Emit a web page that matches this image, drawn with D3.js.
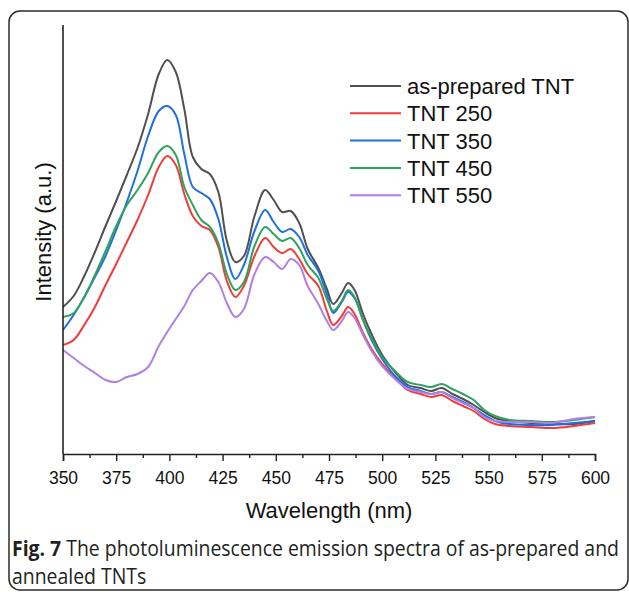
<!DOCTYPE html>
<html>
<head>
<meta charset="utf-8">
<script src="https://cdn.jsdelivr.net/npm/d3@7/dist/d3.min.js"></script>
<style>
  body { margin: 0; background: #fff; }
  svg { display: block; }
</style>
</head>
<body>
<div id="chart"></div>
<script>
// wavelength grid (nm) shared by all series
const wavelengths = [350, 355, 360, 365, 370, 375, 380, 385, 390, 395,
  399, 403, 407, 411, 415, 419, 423, 427, 431, 435,
  440, 445, 449, 453, 457, 461, 465, 470, 474, 477,
  481, 484, 487, 491, 495, 500, 506, 512, 518, 523,
  528, 533, 538, 543, 548, 553, 560, 570, 580, 590, 600];

// intensities (a.u.)
const asPrepared = [147, 158, 178, 202, 228, 253, 279, 306, 340, 380,
  394, 382, 345, 297, 285, 280, 262, 213, 192, 198,
  238, 264, 254, 242, 243, 231, 205, 186, 165, 150,
  161, 171, 164, 140, 120, 99, 82, 69, 66, 63,
  66, 60, 55, 49, 42, 36, 33, 31, 30, 30, 33];
const tnt250 = [109, 114, 129, 147, 169, 190, 212, 234, 259, 287,
  298, 289, 260, 238, 228, 224, 207, 173, 157, 168,
  198, 216, 207, 201, 205, 195, 180, 168, 143, 129,
  138, 147, 140, 121, 105, 90, 76, 64, 60, 57,
  59, 53, 48, 43, 35, 30, 28, 27, 26, 28, 31];
const tnt350 = [124, 139, 157, 177, 198, 224, 252, 283, 318, 343,
  348, 339, 300, 267, 261, 255, 235, 197, 175, 189,
  223, 244, 232, 222, 225, 217, 199, 183, 160, 141,
  152, 162, 156, 134, 114, 95, 78, 67, 63, 60,
  62, 57, 52, 46, 39, 33, 30, 29, 29, 31, 33];
const tnt450 = [137, 141, 157, 179, 203, 228, 249, 264, 281, 302,
  308, 299, 267, 249, 234, 227, 211, 180, 164, 172,
  208, 227, 220, 213, 216, 206, 189, 176, 155, 143,
  153, 164, 157, 134, 116, 97, 83, 72, 69, 67,
  70, 65, 60, 54, 44, 38, 34, 33, 32, 34, 37];
const tnt550 = [104, 96, 88, 81, 74, 72, 77, 80, 87, 108,
  122, 135, 148, 164, 173, 181, 172, 151, 137, 145,
  180, 197, 192, 185, 195, 189, 168, 150, 133, 124,
  133, 142, 136, 119, 103, 88, 75, 65, 62, 60,
  62, 56, 51, 46, 37, 33, 32, 32, 31, 35, 37];

const seriesNames = ["as-prepared TNT", "TNT 250", "TNT 350", "TNT 450", "TNT 550"];
const seriesValues = [asPrepared, tnt250, tnt350, tnt450, tnt550];
const seriesColors = ["#505050", "#f23c3c", "#1f6fe0", "#2ea25e", "#b27ee2"];

const xTicks = [350, 375, 400, 425, 450, 475, 500, 525, 550, 575, 600];
const xMinorTicks = [362.5, 387.5, 412.5, 437.5, 462.5, 487.5, 512.5, 537.5, 562.5, 587.5];

const width = 629, height = 592;
const plot = { left: 63, right: 595, top: 25, bottom: 454 };
const axisFont = "'Liberation Sans', Arial, sans-serif";

const svg = d3.select("#chart").append("svg")
  .attr("width", width)
  .attr("height", height);

// rounded frame of the figure
svg.append("rect")
  .attr("x", 9).attr("y", 11)
  .attr("width", 619).attr("height", 579)
  .attr("rx", 11).attr("ry", 11)
  .attr("fill", "none")
  .attr("stroke", "#2b2b2b")
  .attr("stroke-width", 1.5);

const x = d3.scaleLinear().domain([350, 600]).range([plot.left, plot.right]);
const y = d3.scaleLinear().domain([0, 429]).range([plot.bottom, plot.top]);

const line = d3.line()
  .x((d) => x(d[0]))
  .y((d) => y(d[1]))
  .curve(d3.curveCatmullRom.alpha(0.5));

seriesValues.forEach((vals, i) => {
  svg.append("path")
    .datum(wavelengths.map((w, j) => [w, vals[j]]))
    .attr("fill", "none")
    .attr("stroke", seriesColors[i])
    .attr("stroke-width", 2)
    .attr("stroke-linejoin", "round")
    .attr("d", line);
});

// axes
const xAxis = svg.append("g")
  .attr("transform", `translate(0,${plot.bottom})`)
  .call(d3.axisBottom(x).tickValues(xTicks).tickSize(7).tickPadding(11).tickFormat(d3.format("d")));
xAxis.select(".domain").attr("stroke", "#222").attr("stroke-width", 1.6);
xAxis.selectAll(".tick line").attr("stroke", "#222").attr("stroke-width", 1.4);
xAxis.selectAll("text")
  .attr("font-family", axisFont)
  .attr("font-size", 17.5)
  .attr("fill", "#111");

const xMinor = svg.append("g")
  .attr("transform", `translate(0,${plot.bottom})`)
  .call(d3.axisBottom(x).tickValues(xMinorTicks).tickSize(4).tickFormat(""));
xMinor.select(".domain").remove();
xMinor.selectAll(".tick line").attr("stroke", "#222").attr("stroke-width", 1.4);

svg.append("line")
  .attr("x1", plot.left).attr("x2", plot.left)
  .attr("y1", plot.top).attr("y2", plot.bottom)
  .attr("stroke", "#222")
  .attr("stroke-width", 1.6);

svg.append("text")
  .attr("x", 329)
  .attr("y", 518)
  .attr("text-anchor", "middle")
  .attr("font-family", axisFont)
  .attr("font-size", 22)
  .attr("fill", "#111")
  .text("Wavelength (nm)");

svg.append("text")
  .attr("transform", `translate(51,232) rotate(-90)`)
  .attr("text-anchor", "middle")
  .attr("font-family", axisFont)
  .attr("font-size", 22)
  .attr("fill", "#111")
  .text("Intensity (a.u.)");

// legend
const legend = svg.append("g").attr("transform", "translate(350,86)");
seriesNames.forEach((name, i) => {
  const row = legend.append("g").attr("transform", `translate(0,${i * 27.3})`);
  row.append("line")
    .attr("x1", 0).attr("x2", 51)
    .attr("stroke", seriesColors[i])
    .attr("stroke-width", 2);
  row.append("text")
    .attr("x", 57)
    .attr("dy", "0.36em")
    .attr("font-family", axisFont)
    .attr("font-size", 22)
    .attr("fill", "#111")
    .text(name);
});

// caption
const capFont = "'Open Sans', 'Noto Sans', sans-serif";
const cap1 = svg.append("text")
  .attr("x", 0).attr("y", 0)
  .attr("font-family", capFont)
  .attr("font-size", 21)
  .attr("fill", "#231f20");
cap1.append("tspan").attr("font-weight", "bold").text("Fig. 7");
cap1.append("tspan").text(" The photoluminescence emission spectra of as-prepared and");
const cap2 = svg.append("text")
  .attr("x", 0).attr("y", 0)
  .attr("font-family", capFont)
  .attr("font-size", 21)
  .attr("fill", "#231f20")
  .text("annealed TNTs");

const capScale = 607 / cap1.node().getComputedTextLength();
cap1.attr("transform", `translate(12,556) scale(${capScale},1)`);
cap2.attr("transform", `translate(12,584) scale(${capScale},1)`);
</script>
</body>
</html>
